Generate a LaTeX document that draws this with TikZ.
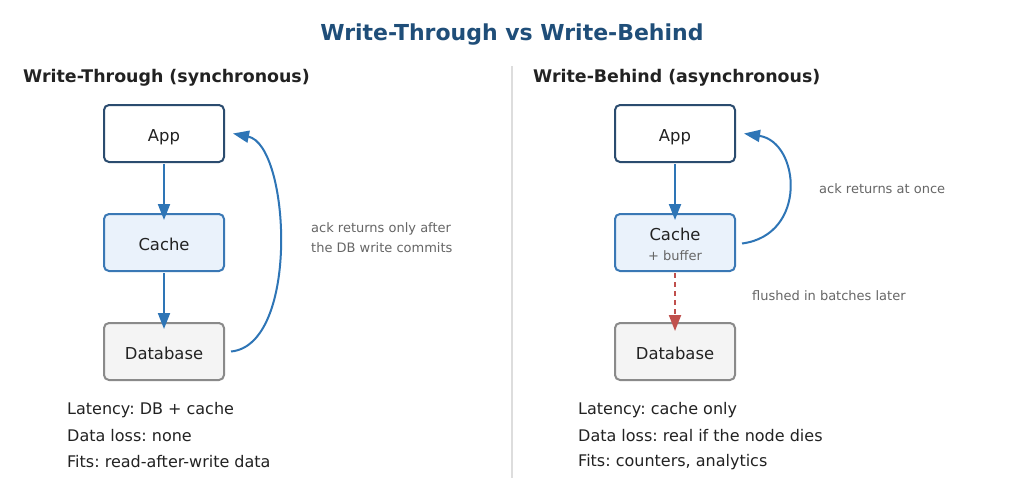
\documentclass[tikz,border=0pt]{standalone}
\usepackage{fontspec}
\setmainfont{DejaVu Sans}
\frenchspacing
\usetikzlibrary{arrows.meta}
\definecolor{titleblue}{HTML}{1F4E79}
\definecolor{appborder}{HTML}{2B4C6F}
\definecolor{cacheborder}{HTML}{3A78B5}
\definecolor{cachefill}{HTML}{EAF2FB}
\definecolor{dbborder}{HTML}{8A8A8A}
\definecolor{dbfill}{HTML}{F4F4F4}
\definecolor{arrowblue}{HTML}{2E75B6}
\definecolor{flushred}{HTML}{C0504D}
\definecolor{labelgray}{HTML}{666666}
\definecolor{textdark}{HTML}{222222}
\definecolor{divider}{HTML}{DDDDDD}
\begin{document}
\begin{tikzpicture}[x=1pt,y=-1pt,
  box/.style={rounded corners=5pt,line width=2pt,minimum width=120pt,minimum height=57pt,inner sep=0pt,font=\fontsize{16.4}{19}\selectfont,text=textdark},
  oneline/.style={text height=16.6pt,text depth=0pt},
  appbox/.style={box,oneline,draw=appborder,fill=white},
  cachebox/.style={box,draw=cacheborder,fill=cachefill},
  dbbox/.style={box,oneline,draw=dbborder,fill=dbfill},
  flow/.style={draw=arrowblue,line width=2pt,-{Triangle[width=12pt,length=16pt]}},
  flush/.style={draw=flushred,line width=2pt,dash pattern=on 5pt off 4pt,-{Triangle[width=12pt,length=16pt]}},
  note/.style={anchor=west,inner sep=0pt,text=labelgray,font=\fontsize{13}{19}\selectfont},
  facts/.style={anchor=west,inner sep=0pt,text=textdark,font=\fontsize{16}{19}\selectfont},
  subtitle/.style={anchor=west,inner sep=0pt,text=textdark,font=\fontsize{17.4}{20}\selectfont\bfseries},
]
\useasboundingbox (0,0) rectangle (1024,496);
\fill[white] (0,0) rectangle (1024,496);

\node[text=titleblue,font=\fontsize{22}{24}\selectfont\bfseries] (title) at (512,35) {Write-Through vs Write-Behind};
\coordinate (divtop) at (512,66);
\coordinate (divbot) at (512,478);
\draw[divider,line width=1.2pt] (divtop) -- (divbot);

% Left panel
\node[subtitle] (lsub) at (23,78) {Write-Through (synchronous)};
\node[appbox] (lapp) at (164,133.5) {App};
\node[cachebox,oneline] (lcache) at (164,242.5) {Cache};
\node[dbbox] (ldb) at (164,351.5) {Database};
\draw[flow] ([yshift=-1pt]lapp.south) -- ([yshift=-7pt]lcache.north);
\draw[flow] ([yshift=-1pt]lcache.south) -- ([yshift=-7pt]ldb.north);
\draw[flow] ([xshift=6pt]ldb.east) .. controls (300,345) and (290,145) .. ([xshift=8pt]lapp.east);
\node[note] (lnote1) at (311,228.5) {ack returns only after};
\node[note] (lnote2) at (311,247.5) {the DB write commits};
\node[facts] (lf1) at (67,410) {Latency: DB + cache};
\node[facts] (lf2) at (67,436) {Data loss: none};
\node[facts] (lf3) at (67,462) {Fits: read-after-write data};

% Right panel
\node[subtitle] (rsub) at (533,78) {Write-Behind (asynchronous)};
\node[appbox] (rapp) at (675,133.5) {App};
\node[cachebox,align=center] (rcache) at (675,242.5) {\raisebox{-4pt}[\height][\depth]{\begin{tabular}{@{}c@{}}Cache\\[1pt]{\fontsize{13}{15}\selectfont\color{labelgray}+ buffer}\end{tabular}}};
\node[dbbox] (rdb) at (675,351.5) {Database};
\draw[flow] ([yshift=-1pt]rapp.south) -- ([yshift=-7pt]rcache.north);
\draw[flush] ([yshift=-1pt]rcache.south) -- ([yshift=-9pt]rdb.north);
\draw[flow] ([xshift=6pt,yshift=-1pt]rcache.east) .. controls (808,235) and (800,142) .. ([xshift=8pt]rapp.east);
\node[note] (rnote1) at (819,188.5) {ack returns at once};
\node[note] (rnote2) at (752,295.5) {flushed in batches later};
\node[facts] (rf1) at (578,410) {Latency: cache only};
\node[facts] (rf2) at (578,436) {Data loss: real if the node dies};
\node[facts] (rf3) at (578,462) {Fits: counters, analytics};
\end{tikzpicture}
\end{document}
